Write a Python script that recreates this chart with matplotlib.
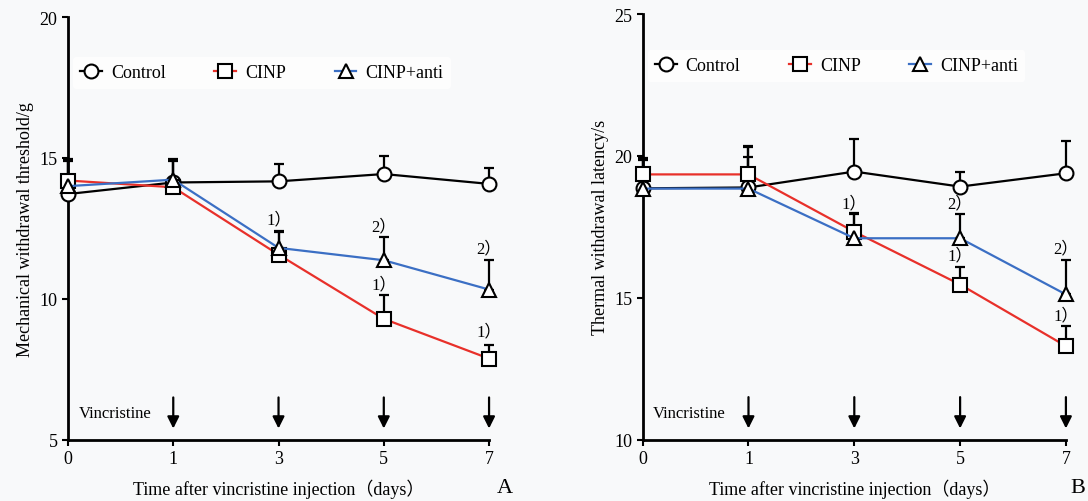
import numpy as np
import matplotlib.pyplot as plt

plt.rcParams['font.family'] = ['Liberation Serif', 'Noto Sans CJK SC']

days = ['0', '1', '3', '5', '7']
groups = ['Control', 'CINP', 'CINP+anti']

# panel A: mechanical withdrawal threshold (g)
mech_mean = {
    'Control':   [13.72, 14.13, 14.17, 14.43, 14.08],
    'CINP':      [14.20, 13.96, 11.57, 9.29, 7.88],
    'CINP+anti': [14.00, 14.23, 11.81, 11.37, 10.33],
}
mech_err = {
    'Control':   [1.20, 0.80, 0.63, 0.65, 0.57],
    'CINP':      [0.75, 0.95, 0.80, 0.83, 0.50],
    'CINP+anti': [0.90, 0.75, 0.60, 0.83, 1.04],
}
mech_sig = [(2, 12.53, '1）'), (3, 12.28, '2）'), (4, 11.5, '2）'),
            (3, 10.23, '1）'), (4, 8.56, '1）')]

# panel B: thermal withdrawal latency (s)
therm_mean = {
    'Control':   [18.86, 18.89, 19.45, 18.92, 19.39],
    'CINP':      [19.35, 19.35, 17.33, 15.47, 13.30],
    'CINP+anti': [18.85, 18.85, 17.10, 17.10, 15.12],
}
therm_err = {
    'Control':   [1.06, 1.46, 1.14, 0.53, 1.14],
    'CINP':      [0.55, 0.95, 0.65, 0.60, 0.70],
    'CINP+anti': [1.00, 1.10, 0.85, 0.84, 1.23],
}
therm_sig = [(2, 18.05, '1）'), (3, 18.05, '2）'), (3, 16.2, '1）'),
             (4, 16.45, '2）'), (4, 14.1, '1）')]

colors = {'Control': 'black', 'CINP': '#e8302a', 'CINP+anti': '#3b6fc4'}
markers = {'Control': 'o', 'CINP': 's', 'CINP+anti': '^'}

fig = plt.figure(figsize=(10.88, 5.02), dpi=100, facecolor='#f8f9fa')
axA = fig.add_axes([0.0625, 0.122, 0.387, 0.842])
axB = fig.add_axes([0.5907, 0.122, 0.389, 0.848])


def draw(ax, means, errs, sig, ylim, yticks, ylabel, arrow_y, leg_y):
    x = np.arange(len(days))
    ax.set_facecolor('#f8f9fa')
    for g in groups:
        m = np.array(means[g])
        e = np.array(errs[g])
        ax.errorbar(x, m, yerr=[np.zeros_like(e), e], fmt='none', ecolor='black',
                    elinewidth=1.6, capsize=3.5, capthick=1.6, zorder=2, clip_on=False)
        ax.plot(x, m, color=colors[g], lw=1.6, marker=markers[g], ms=10,
                mfc='white', mec='black', mew=1.5, zorder=3, clip_on=False, label=g)
    for xi, yi, s in sig:
        ax.text(xi, yi, s, ha='center', va='bottom', fontsize=12)
    for xi in x[1:]:
        ax.annotate('', xy=(xi, arrow_y[1]), xytext=(xi, arrow_y[0]),
                    arrowprops=dict(arrowstyle='-|>,head_width=0.35,head_length=0.7',
                                    color='black', lw=1.6))
    ax.text(0.1, (arrow_y[0] + arrow_y[1]) / 2, 'Vincristine', fontsize=12,
            ha='left', va='center')
    ax.set_xlim(0, 4)
    ax.set_ylim(*ylim)
    ax.set_xticks(x)
    ax.set_xticklabels(days)
    ax.set_yticks(yticks)
    ax.tick_params(labelsize=13, direction='out', length=4, width=1.5)
    for side in ['top', 'right']:
        ax.spines[side].set_visible(False)
    for side in ['left', 'bottom']:
        ax.spines[side].set_linewidth(2)
    ax.set_xlabel('Time after vincristine injection（days）', fontsize=13, labelpad=8)
    ax.set_ylabel(ylabel, fontsize=13, labelpad=4)
    leg = ax.legend(loc='upper left', bbox_to_anchor=(0.012, leg_y), ncol=3,
                    frameon=True, fontsize=13, handlelength=1.2, columnspacing=2.7,
                    handletextpad=0.5, borderaxespad=0)
    leg.get_frame().set_facecolor('white')
    leg.get_frame().set_edgecolor('none')


draw(axA, mech_mean, mech_err, mech_sig, (5, 20), [5, 10, 15, 20],
     'Mechanical withdrawal threshold/g', (6.6, 5.3), 0.905)
draw(axB, therm_mean, therm_err, therm_sig, (10, 25), [10, 15, 20, 25],
     'Thermal withdrawal latency/s', (11.6, 10.3), 0.915)

fig.text(505 / 1088, 1 - 489 / 502, 'A', fontsize=16, ha='center', va='center')
fig.text(1078 / 1088, 1 - 489 / 502, 'B', fontsize=16, ha='center', va='center')

fig.savefig('out.png', dpi=100, facecolor=fig.get_facecolor())
